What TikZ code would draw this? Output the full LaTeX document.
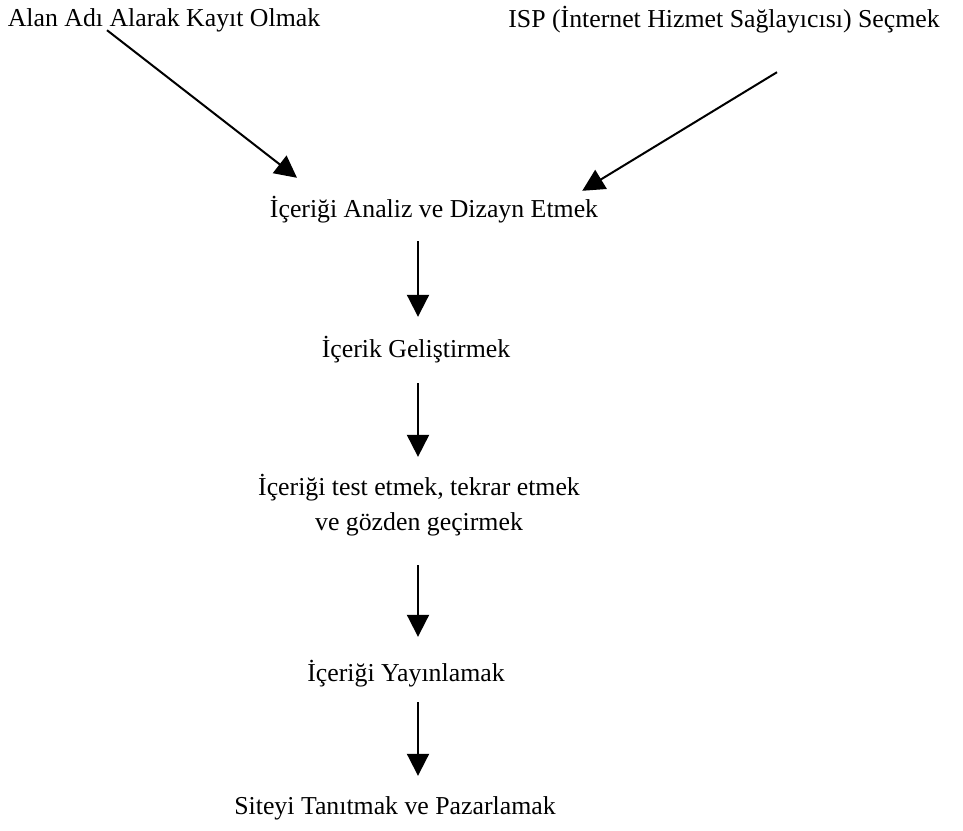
\documentclass[tikz,border=0pt]{standalone}
\usepackage{fontspec}
\setmainfont{Liberation Serif}
\usetikzlibrary{arrows.meta}

\tikzset{
  etiket/.style={font=\fontsize{25.8}{35}\selectfont, inner sep=0pt, text height=21pt, text depth=3pt},
  akis/.style={line width=2pt, -{Triangle[width=22pt,length=22pt]}}
}

\begin{document}
\begin{tikzpicture}[x=1pt, y=-1pt]
    \useasboundingbox (0,0) rectangle (963,830);
    \node[etiket] (kayit) at (164,17) {Alan Adı Alarak Kayıt Olmak};
    \node[etiket] (isp) at (724,18) {ISP (İnternet Hizmet Sağlayıcısı) Seçmek};
    \node[etiket] (analiz) at (434,208) {İçeriği Analiz ve Dizayn Etmek};
    \node[etiket] (gelistir) at (416,348) {İçerik Geliştirmek};
    \node[font=\fontsize{25.8}{35}\selectfont, inner sep=0pt, align=center] (test) at (419,505) {İçeriği test etmek, tekrar etmek\\ve gözden geçirmek};
    \node[etiket] (yayin) at (406,672) {İçeriği Yayınlamak};
    \node[etiket] (siteyi) at (395,805) {Siteyi Tanıtmak ve Pazarlamak};
    \coordinate (eksen) at (418,0);

    \draw[akis] ([xshift=-57pt,yshift=-1pt]kayit.south) -- ([xshift=-137pt,yshift=18pt]analiz.north);
    \draw[akis] ([xshift=53pt,yshift=-42pt]isp.south) -- ([xshift=-16pt,yshift=5pt]analiz.north east);
    \foreach \a/\b/\s/\e in {analiz/gelistir/21/19, gelistir/test/23/17, test/yayin/29/23, yayin/siteyi/18/17}
        \draw[akis, shorten <=\s pt, shorten >=\e pt] (\a.south -| eksen) -- (\b.north -| eksen);
\end{tikzpicture}
\end{document}
